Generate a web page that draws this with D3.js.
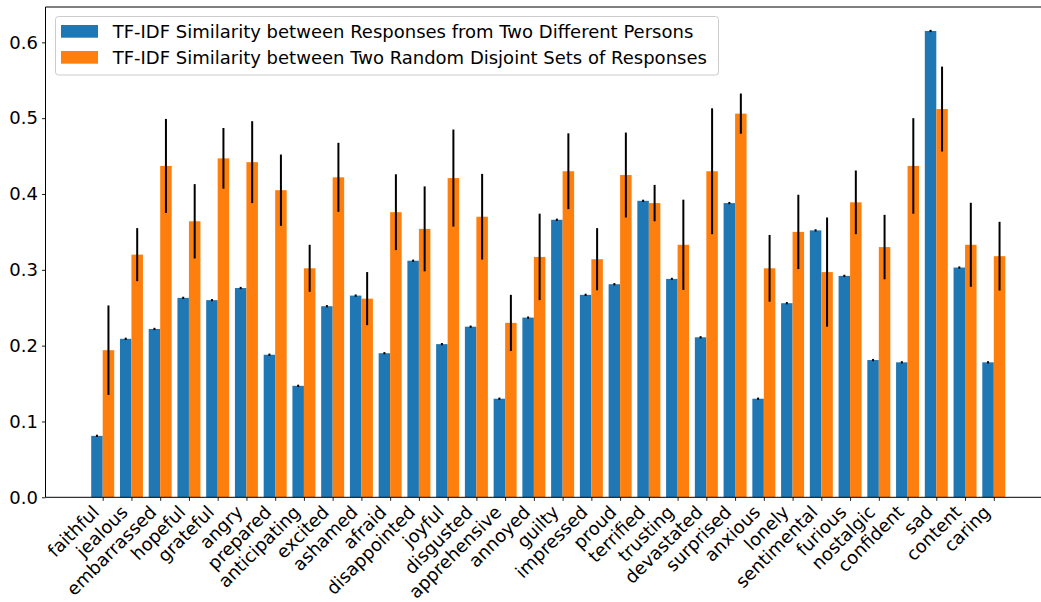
<!DOCTYPE html>
<html>
<head>
<meta charset="utf-8">
<script src="https://cdn.jsdelivr.net/npm/d3@7"></script>
<style>
  html, body { margin: 0; padding: 0; background: #fff; }
  svg { display: block; }
  text { font-family: "DejaVu Sans", sans-serif; fill: #000; }
</style>
</head>
<body>
<svg id="chart" width="1041" height="602"></svg>
<script>
const categories = ["faithful","jealous","embarrassed","hopeful","grateful","angry","prepared","anticipating","excited","ashamed","afraid","disappointed","joyful","disgusted","apprehensive","annoyed","guilty","impressed","proud","terrified","trusting","devastated","surprised","anxious","lonely","sentimental","furious","nostalgic","confident","sad","content","caring"];
const personValues = [0.081,0.209,0.222,0.263,0.260,0.276,0.188,0.147,0.252,0.266,0.190,0.312,0.202,0.225,0.130,0.237,0.366,0.267,0.281,0.391,0.288,0.211,0.388,0.130,0.256,0.352,0.292,0.181,0.178,0.615,0.303,0.178];
const personErrors = [0.0015,0.0015,0.0015,0.0015,0.0015,0.0015,0.0015,0.0015,0.0015,0.0015,0.0015,0.0015,0.0015,0.0015,0.0015,0.0015,0.0015,0.0015,0.0015,0.0015,0.0015,0.0015,0.0015,0.0015,0.0015,0.0015,0.0015,0.0015,0.0015,0.0015,0.0015,0.0015];
const randomValues = [0.194,0.320,0.437,0.364,0.447,0.442,0.405,0.302,0.422,0.262,0.376,0.354,0.421,0.370,0.230,0.317,0.430,0.314,0.425,0.388,0.333,0.430,0.506,0.302,0.350,0.297,0.389,0.330,0.437,0.512,0.333,0.318];
const randomErrors = [0.059,0.035,0.062,0.049,0.040,0.054,0.047,0.031,0.0455,0.035,0.050,0.056,0.064,0.0565,0.037,0.057,0.050,0.041,0.056,0.024,0.0595,0.083,0.0265,0.044,0.049,0.072,0.042,0.0425,0.063,0.056,0.0554,0.0453];
const yTicks = [0.0,0.1,0.2,0.3,0.4,0.5,0.6];
const seriesNames = ["TF-IDF Similarity between Responses from Two Different Persons","TF-IDF Similarity between Two Random Disjoint Sets of Responses"];
const colors = ["#1f77b4","#ff7f0e"];

const svg = d3.select("#chart");
const barW = 0.4;
const FS = 18;
const x = d3.scaleLinear().domain([-1.99, 32.99]).range([45.5, 1051]);
const y = d3.scaleLinear().domain([0, 0.6466]).range([497.3, 7]);

const series = [
  {vals: personValues, errs: personErrors, off: -barW, color: colors[0]},
  {vals: randomValues, errs: randomErrors, off: 0, color: colors[1]}
];

// bars
series.forEach(s => {
  svg.append("g").selectAll("rect").data(s.vals).join("rect")
    .attr("x", (d,i) => x(i + s.off))
    .attr("width", (d,i) => x(i + s.off + barW) - x(i + s.off))
    .attr("y", d => y(d))
    .attr("height", d => y(0) - y(d))
    .attr("fill", s.color);
});
// error bars
series.forEach(s => {
  svg.append("g").selectAll("line").data(s.vals).join("line")
    .attr("x1", (d,i) => x(i + s.off + barW/2))
    .attr("x2", (d,i) => x(i + s.off + barW/2))
    .attr("y1", (d,i) => y(d - s.errs[i]))
    .attr("y2", (d,i) => y(d + s.errs[i]))
    .attr("stroke", "#000").attr("stroke-width", 2);
});

// axes
const xAxis = d3.axisBottom(x)
  .tickValues(d3.range(categories.length))
  .tickFormat(i => categories[i])
  .tickSize(3.5).tickSizeOuter(0);
const gx = svg.append("g").attr("transform", `translate(0,${y(0)})`).call(xAxis);
gx.select(".domain").remove();
gx.selectAll(".tick line").attr("stroke", "#000").attr("stroke-width", 0.9);
gx.selectAll(".tick text")
  .attr("font-size", FS)
  .attr("font-family", "DejaVu Sans")
  .attr("text-anchor", "end")
  .attr("dy", null)
  .attr("y", 0)
  .attr("transform", "translate(-3,16) rotate(-45)");

const yAxis = d3.axisLeft(y).tickValues(yTicks).tickFormat(d3.format(".1f")).tickSize(3.5).tickPadding(4);
const gy = svg.append("g").attr("transform", `translate(${x.range()[0]},0)`).call(yAxis);
gy.select(".domain").remove();
gy.selectAll(".tick line").attr("stroke", "#000").attr("stroke-width", 0.9);
gy.selectAll(".tick text").attr("font-size", FS).attr("font-family", "DejaVu Sans");

// spines
const [x0, x1] = x.range();
const [yb, yt] = y.range();
svg.append("line").attr("x1", x0).attr("x2", x0).attr("y1", yt).attr("y2", yb).attr("stroke", "#000").attr("stroke-width", 1);
svg.append("line").attr("x1", x0).attr("x2", x1).attr("y1", yb).attr("y2", yb).attr("stroke", "#000").attr("stroke-width", 1);
svg.append("line").attr("x1", x0).attr("x2", x1).attr("y1", yt).attr("y2", yt).attr("stroke", "#000").attr("stroke-width", 1);
svg.append("line").attr("x1", x1).attr("x2", x1).attr("y1", yt).attr("y2", yb).attr("stroke", "#000").attr("stroke-width", 1);

// legend
const lg = svg.append("g");
lg.append("rect").attr("x", 55.5).attr("y", 16.5).attr("width", 663).attr("height", 58.5)
  .attr("rx", 3).attr("fill", "#fff").attr("fill-opacity", 0.8).attr("stroke", "#cccccc").attr("stroke-width", 1);
seriesNames.forEach((name, i) => {
  lg.append("rect").attr("x", 61).attr("y", 25 + i * 26).attr("width", 37).attr("height", 12.7).attr("fill", colors[i]);
  lg.append("text").attr("x", 112.7).attr("y", 37.8 + i * 26).attr("font-size", FS).text(name);
});
</script>
</body>
</html>
